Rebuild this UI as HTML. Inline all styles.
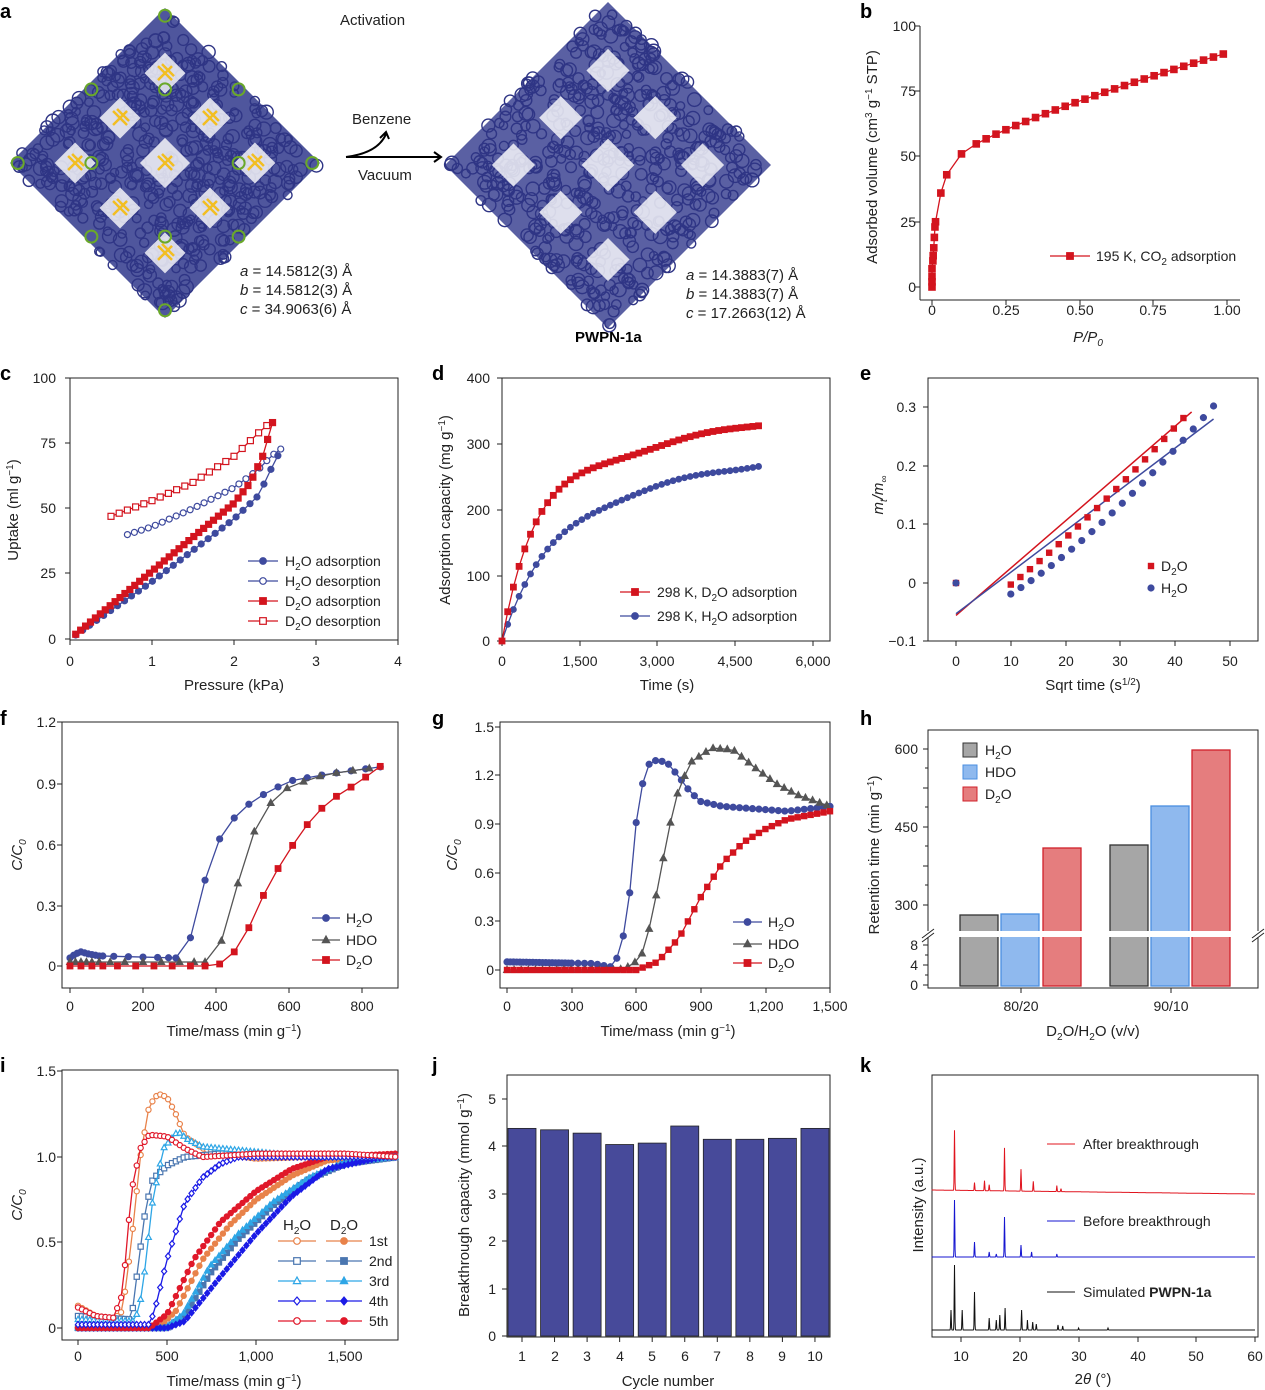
<!DOCTYPE html>
<html><head><meta charset="utf-8"><style>
body{margin:0;background:#fff}
svg{display:block;font-family:"Liberation Sans",Arial,sans-serif}
.t{font-size:14px;fill:#222}
.l{font-size:15px;fill:#222}
.p{font-size:20px;font-weight:bold;fill:#000}
</style></head><body>
<svg id="s" width="1265" height="1390" viewBox="0 0 1265 1390" xmlns="http://www.w3.org/2000/svg">
<g id="art"></g>
<g id="ax" fill="none" stroke="#222" stroke-width="1"></g>
<g id="dat"></g>
<text class="p" x="0" y="18">a</text><text class="p" x="860" y="18">b</text>
<text class="p" x="0" y="380">c</text><text class="p" x="432" y="380">d</text><text class="p" x="860" y="380">e</text>
<text class="p" x="0" y="725">f</text><text class="p" x="432" y="725">g</text><text class="p" x="860" y="725">h</text>
<text class="p" x="0" y="1072">i</text><text class="p" x="432" y="1072">j</text><text class="p" x="860" y="1072">k</text>
<text class="l" x="340" y="25">Activation</text>
<text class="l" x="352" y="124">Benzene</text>
<text class="l" x="358" y="180">Vacuum</text>
<path d="M346,157 L441,157 M434,152 L441,157 L434,162 M346,157 Q378,153 386,134 M380,138 L386,132 L389,139" stroke="#000" stroke-width="2" fill="none"/>
<g class="l"><text x="240" y="276"><tspan font-style="italic">a</tspan> = 14.5812(3) Å</text><text x="240" y="295"><tspan font-style="italic">b</tspan> = 14.5812(3) Å</text><text x="240" y="314"><tspan font-style="italic">c</tspan> = 34.9063(6) Å</text>
<text x="686" y="280"><tspan font-style="italic">a</tspan> = 14.3883(7) Å</text><text x="686" y="299"><tspan font-style="italic">b</tspan> = 14.3883(7) Å</text><text x="686" y="318"><tspan font-style="italic">c</tspan> = 17.2663(12) Å</text></g>
<text x="575" y="342" font-size="15" font-weight="bold">PWPN-1a</text>
<g class="t" text-anchor="end"><text x="916" y="31">100</text><text x="916" y="96">75</text><text x="916" y="161">50</text><text x="916" y="227">25</text><text x="916" y="292">0</text></g>
<g class="t" text-anchor="middle"><text x="932" y="315">0</text><text x="1006" y="315">0.25</text><text x="1080" y="315">0.50</text><text x="1153" y="315">0.75</text><text x="1227" y="315">1.00</text></g>
<text class="l" x="1088" y="342" text-anchor="middle" font-style="italic">P/P<tspan dy="4" font-size="10">0</tspan></text>
<text class="l" transform="translate(877,157) rotate(-90)" text-anchor="middle">Adsorbed volume (cm<tspan dy="-5" font-size="10">3</tspan><tspan dy="5"> g</tspan><tspan dy="-5" font-size="10">−1</tspan><tspan dy="5"> STP)</tspan></text>
<text class="t" x="1096" y="261">195 K, CO<tspan dy="4" font-size="10">2</tspan><tspan dy="-4"> adsorption</tspan></text>
<g class="t" text-anchor="end"><text x="56" y="383">100</text><text x="56" y="448">75</text><text x="56" y="513">50</text><text x="56" y="578">25</text><text x="56" y="644">0</text></g>
<g class="t" text-anchor="middle"><text x="70" y="666">0</text><text x="152" y="666">1</text><text x="234" y="666">2</text><text x="316" y="666">3</text><text x="398" y="666">4</text></g>
<text class="l" x="234" y="690" text-anchor="middle">Pressure (kPa)</text>
<text class="l" transform="translate(18,510) rotate(-90)" text-anchor="middle">Uptake (ml g<tspan dy="-5" font-size="10">−1</tspan><tspan dy="5">)</tspan></text>
<g class="t"><text x="285" y="566">H<tspan dy="4" font-size="10">2</tspan><tspan dy="-4">O adsorption</tspan></text><text x="285" y="586">H<tspan dy="4" font-size="10">2</tspan><tspan dy="-4">O desorption</tspan></text><text x="285" y="606">D<tspan dy="4" font-size="10">2</tspan><tspan dy="-4">O adsorption</tspan></text><text x="285" y="626">D<tspan dy="4" font-size="10">2</tspan><tspan dy="-4">O desorption</tspan></text></g>
<g class="t" text-anchor="end"><text x="490" y="383">400</text><text x="490" y="449">300</text><text x="490" y="515">200</text><text x="490" y="581">100</text><text x="490" y="646">0</text></g>
<g class="t" text-anchor="middle"><text x="502" y="666">0</text><text x="580" y="666">1,500</text><text x="657" y="666">3,000</text><text x="735" y="666">4,500</text><text x="813" y="666">6,000</text></g>
<text class="l" x="667" y="690" text-anchor="middle">Time (s)</text>
<text class="l" transform="translate(450,510) rotate(-90)" text-anchor="middle">Adsorption capacity (mg g<tspan dy="-5" font-size="10">−1</tspan><tspan dy="5">)</tspan></text>
<g class="t"><text x="657" y="597">298 K, D<tspan dy="4" font-size="10">2</tspan><tspan dy="-4">O adsorption</tspan></text><text x="657" y="621">298 K, H<tspan dy="4" font-size="10">2</tspan><tspan dy="-4">O adsorption</tspan></text></g>
<g class="t" text-anchor="end"><text x="916" y="412">0.3</text><text x="916" y="471">0.2</text><text x="916" y="529">0.1</text><text x="916" y="588">0</text><text x="916" y="646">−0.1</text></g>
<g class="t" text-anchor="middle"><text x="956" y="666">0</text><text x="1011" y="666">10</text><text x="1066" y="666">20</text><text x="1120" y="666">30</text><text x="1175" y="666">40</text><text x="1230" y="666">50</text></g>
<text class="l" x="1093" y="690" text-anchor="middle">Sqrt time (s<tspan dy="-5" font-size="10">1/2</tspan><tspan dy="5">)</tspan></text>
<text class="l" transform="translate(883,495) rotate(-90)" text-anchor="middle" font-style="italic">m<tspan dy="4" font-size="10">t</tspan><tspan dy="-4">/m</tspan><tspan dy="4" font-size="10">∞</tspan></text>
<g class="t"><text x="1161" y="571">D<tspan dy="4" font-size="10">2</tspan><tspan dy="-4">O</tspan></text><text x="1161" y="593">H<tspan dy="4" font-size="10">2</tspan><tspan dy="-4">O</tspan></text></g>
<g class="t" text-anchor="end"><text x="56" y="727">1.2</text><text x="56" y="789">0.9</text><text x="56" y="850">0.6</text><text x="56" y="911">0.3</text><text x="56" y="971">0</text></g>
<g class="t" text-anchor="middle"><text x="70" y="1011">0</text><text x="143" y="1011">200</text><text x="216" y="1011">400</text><text x="289" y="1011">600</text><text x="362" y="1011">800</text></g>
<text class="l" x="234" y="1036" text-anchor="middle">Time/mass (min g<tspan dy="-5" font-size="10">−1</tspan><tspan dy="5">)</tspan></text>
<text class="l" transform="translate(22,855) rotate(-90)" text-anchor="middle" font-style="italic">C/C<tspan dy="4" font-size="10">0</tspan></text>
<g class="t"><text x="346" y="923">H<tspan dy="4" font-size="10">2</tspan><tspan dy="-4">O</tspan></text><text x="346" y="945">HDO</text><text x="346" y="965">D<tspan dy="4" font-size="10">2</tspan><tspan dy="-4">O</tspan></text></g>
<g class="t" text-anchor="end"><text x="494" y="732">1.5</text><text x="494" y="780">1.2</text><text x="494" y="829">0.9</text><text x="494" y="878">0.6</text><text x="494" y="926">0.3</text><text x="494" y="975">0</text></g>
<g class="t" text-anchor="middle"><text x="507" y="1011">0</text><text x="572" y="1011">300</text><text x="636" y="1011">600</text><text x="701" y="1011">900</text><text x="766" y="1011">1,200</text><text x="830" y="1011">1,500</text></g>
<text class="l" x="668" y="1036" text-anchor="middle">Time/mass (min g<tspan dy="-5" font-size="10">−1</tspan><tspan dy="5">)</tspan></text>
<text class="l" transform="translate(457,855) rotate(-90)" text-anchor="middle" font-style="italic">C/C<tspan dy="4" font-size="10">0</tspan></text>
<g class="t"><text x="768" y="927">H<tspan dy="4" font-size="10">2</tspan><tspan dy="-4">O</tspan></text><text x="768" y="949">HDO</text><text x="768" y="968">D<tspan dy="4" font-size="10">2</tspan><tspan dy="-4">O</tspan></text></g>
<g class="t" text-anchor="end"><text x="918" y="754">600</text><text x="918" y="832">450</text><text x="918" y="910">300</text><text x="918" y="950">8</text><text x="918" y="970">4</text><text x="918" y="990">0</text></g>
<g class="t" text-anchor="middle"><text x="1021" y="1011">80/20</text><text x="1171" y="1011">90/10</text></g>
<text class="l" x="1093" y="1036" text-anchor="middle">D<tspan dy="4" font-size="10">2</tspan><tspan dy="-4">O/H</tspan><tspan dy="4" font-size="10">2</tspan><tspan dy="-4">O (v/v)</tspan></text>
<text class="l" transform="translate(879,855) rotate(-90)" text-anchor="middle">Retention time (min g<tspan dy="-5" font-size="10">−1</tspan><tspan dy="5">)</tspan></text>
<g class="t"><text x="985" y="755">H<tspan dy="4" font-size="10">2</tspan><tspan dy="-4">O</tspan></text><text x="985" y="777">HDO</text><text x="985" y="799">D<tspan dy="4" font-size="10">2</tspan><tspan dy="-4">O</tspan></text></g>
<g class="t" text-anchor="end"><text x="56" y="1076">1.5</text><text x="56" y="1162">1.0</text><text x="56" y="1247">0.5</text><text x="56" y="1333">0</text></g>
<g class="t" text-anchor="middle"><text x="78" y="1361">0</text><text x="167" y="1361">500</text><text x="256" y="1361">1,000</text><text x="345" y="1361">1,500</text></g>
<text class="l" x="234" y="1386" text-anchor="middle">Time/mass (min g<tspan dy="-5" font-size="10">−1</tspan><tspan dy="5">)</tspan></text>
<text class="l" transform="translate(22,1205) rotate(-90)" text-anchor="middle" font-style="italic">C/C<tspan dy="4" font-size="10">0</tspan></text>
<g class="l"><text x="283" y="1230">H<tspan dy="4" font-size="10">2</tspan><tspan dy="-4">O</tspan></text><text x="330" y="1230">D<tspan dy="4" font-size="10">2</tspan><tspan dy="-4">O</tspan></text></g>
<g class="t"><text x="369" y="1246">1st</text><text x="369" y="1266">2nd</text><text x="369" y="1286">3rd</text><text x="369" y="1306">4th</text><text x="369" y="1326">5th</text></g>
<g class="t" text-anchor="end"><text x="496" y="1104">5</text><text x="496" y="1151">4</text><text x="496" y="1199">3</text><text x="496" y="1246">2</text><text x="496" y="1294">1</text><text x="496" y="1341">0</text></g>
<g class="t" text-anchor="middle"><text x="522" y="1361">1</text><text x="555" y="1361">2</text><text x="587" y="1361">3</text><text x="620" y="1361">4</text><text x="652" y="1361">5</text><text x="685" y="1361">6</text><text x="717" y="1361">7</text><text x="750" y="1361">8</text><text x="782" y="1361">9</text><text x="815" y="1361">10</text></g>
<text class="l" x="668" y="1386" text-anchor="middle">Cycle number</text>
<text class="l" transform="translate(469,1205) rotate(-90)" text-anchor="middle">Breakthrough capacity (mmol g<tspan dy="-5" font-size="10">−1</tspan><tspan dy="5">)</tspan></text>
<g class="t" text-anchor="middle"><text x="961" y="1361">10</text><text x="1020" y="1361">20</text><text x="1079" y="1361">30</text><text x="1138" y="1361">40</text><text x="1196" y="1361">50</text><text x="1255" y="1361">60</text></g>
<text class="l" x="1093" y="1384" text-anchor="middle">2<tspan font-style="italic">θ</tspan> (°)</text>
<text class="l" transform="translate(923,1205) rotate(-90)" text-anchor="middle">Intensity (a.u.)</text>
<g class="t"><text x="1083" y="1149">After breakthrough</text><text x="1083" y="1226">Before breakthrough</text><text x="1083" y="1297">Simulated <tspan font-weight="bold">PWPN-1a</tspan></text></g>
</svg>
<script>
const NS="http://www.w3.org/2000/svg";
const AX=document.getElementById('ax'),DAT=document.getElementById('dat'),ART=document.getElementById('art');
function el(p,tag,a){const e=document.createElementNS(NS,tag);for(const k in a)e.setAttribute(k,a[k]);p.appendChild(e);return e;}
function ip(K,x){if(x<=K[0][0])return K[0][1];for(let i=1;i<K.length;i++){if(x<=K[i][0]){const a=K[i-1],b=K[i];return a[1]+(b[1]-a[1])*(x-a[0])/(b[0]-a[0]);}}return K[K.length-1][1];}
function mk(g,t,x,y,c,f,r){r=r||3.3;const fl=f?c:'#fff';
 if(t=='o')el(g,'circle',{cx:x,cy:y,r:r,fill:fl,stroke:c,'stroke-width':1.2});
 else if(t=='s')el(g,'rect',{x:x-r,y:y-r,width:2*r,height:2*r,fill:fl,stroke:c,'stroke-width':1.2});
 else if(t=='^')el(g,'polygon',{points:`${x},${y-r*1.2} ${x-r*1.1},${y+r*0.8} ${x+r*1.1},${y+r*0.8}`,fill:fl,stroke:c,'stroke-width':1.2});
 else if(t=='d')el(g,'polygon',{points:`${x},${y-r*1.2} ${x+r},${y} ${x},${y+r*1.2} ${x-r},${y}`,fill:fl,stroke:c,'stroke-width':1.2});}
function ser(P,pts,c,t,f,r,noline){const q=pts.map(p=>[P.X(p[0]),P.Y(p[1])]);
 if(!noline)el(DAT,'polyline',{points:q.map(p=>p.join(',')).join(' '),fill:'none',stroke:c,'stroke-width':1.3});
 q.forEach(p=>mk(DAT,t,p[0],p[1],c,f,r));}
function pan(x0,x1,vx0,vx1,y0,y1,vy0,vy1){return{X:v=>x0+(v-vx0)*(x1-x0)/(vx1-vx0),Y:v=>y0+(v-vy0)*(y1-y0)/(vy1-vy0)};}
function box(x,y,w,h){el(AX,'rect',{x:x,y:y,width:w,height:h});}
function tx(xs,y,len){xs.forEach(x=>el(AX,'line',{x1:x,y1:y,x2:x,y2:y+len}));}
function ty(ys,x,len){ys.forEach(y=>el(AX,'line',{x1:x,y1:y,x2:x-len,y2:y}));}
function rng(a,b,s){const r=[];for(let v=a;v<=b+1e-9;v+=s)r.push(v);return r;}
function leg(x1,x2,y,c,t,f){el(DAT,'line',{x1:x1,y1:y,x2:x2,y2:y,stroke:c,'stroke-width':1.3});mk(DAT,t,(x1+x2)/2,y,c,f);}
const RED='#d3141e',BLU='#3e4a9e',GRY='#555';

function diamond(cx,cy,R,yellow){
 el(ART,'polygon',{points:`${cx},${cy-R} ${cx+R},${cy} ${cx},${cy+R} ${cx-R},${cy}`,fill:yellow?'#4f569d':'#5a60a3'});
 let seed=cx;function rnd(){seed=(seed*9301+49297)%233280;return seed/233280;}
 for(let i=0;i<520;i++){const u=rnd()*2-1,v=rnd()*2-1;const x=cx+(u+v)*R/2,y=cy+(u-v)*R/2;
  el(ART,'circle',{cx:x,cy:y,r:4+rnd()*3,fill:'none',stroke:'#2f3585','stroke-width':1.4});}
 const s=R/3.4;const holes=[[0,0],[-1,-1],[1,-1],[-1,1],[1,1],[0,-2],[0,2],[-2,0],[2,0]];
 holes.forEach(h=>{const x=cx+h[0]*R*0.29,y=cy+h[1]*R*0.29;const hs=h[0]==0&&h[1]==0?s*0.55:s*0.45;
  el(ART,'polygon',{points:`${x},${y-hs} ${x+hs},${y} ${x},${y+hs} ${x-hs},${y}`,fill:'#fff',opacity:0.8});
  if(yellow)el(ART,'path',{d:`M${x-7},${y-7}L${x+7},${y+7}M${x-7},${y+7}L${x+7},${y-7}M${x-3},${y-9}L${x+9},${y+3}`,stroke:'#f2be22','stroke-width':2.5});});
 if(yellow){[[0,-1.9],[0,1.9],[-1.9,0],[1.9,0],[-0.95,-0.95],[0.95,-0.95],[-0.95,0.95],[0.95,0.95],[0,-0.95],[0,0.95],[-0.95,0],[0.95,0]].forEach(h=>{
  el(ART,'circle',{cx:cx+h[0]*R*0.5,cy:cy+h[1]*R*0.5,r:6,fill:'none',stroke:'#6aa82a','stroke-width':2});});}
}
diamond(165,163,155,true);diamond(608,165,163,false);

el(AX,'line',{x1:920,y1:26,x2:920,y2:300});el(AX,'line',{x1:920,y1:300,x2:1240,y2:300});
ty([26,91,156,222,287],920,5);tx([932,1006,1080,1153,1227],300,5);
{const P=pan(932,1227,0,1,287,26,0,100);
 const pts=[[0,0],[0,2],[0,4],[0,7],[0.003,10],[0.004,12],[0.006,15],[0.008,19],[0.01,23],[0.012,25],[0.03,36],[0.05,43],[0.1,51]];
 for(let p=0.15;p<=0.99;p+=0.0335){pts.push([p,51+38*Math.pow((p-0.1)/0.88,0.8)]);}
 ser(P,pts,RED,'s',true,3.2);leg(1050,1090,256,RED,'s',true);}

box(70,378,328,262);tx([70,152,234,316,398],640,5);ty([378,443,508,573,639],70,5);
{const P=pan(70,398,0,4,639,378,0,100);
 const ha=[],hd=[],da=[],dd=[];
 for(let x=0.07;x<=2.58;x+=0.085)ha.push([x,ip([[0,0],[1,22],[2,46],[2.3,55],[2.45,65],[2.58,73]],x)]);
 for(let x=0.7;x<=2.58;x+=0.085)hd.push([x,ip([[0.7,40],[1,43],[1.5,50],[2,58],[2.3,65],[2.45,70],[2.58,73]],x)]);
 for(let x=0.07;x<=2.48;x+=0.06)da.push([x,ip([[0,0],[1,26],[2,52],[2.2,60],[2.35,70],[2.48,84]],x)]);
 for(let x=0.5;x<=2.48;x+=0.1)dd.push([x,ip([[0.5,47],[1,53],[1.5,60],[2,70],[2.3,79],[2.48,84]],x)]);
 ser(P,hd,BLU,'o',false,3);ser(P,ha,BLU,'o',true,3);ser(P,dd,RED,'s',false,3);ser(P,da,RED,'s',true,3);
 leg(248,278,561,BLU,'o',true);leg(248,278,581,BLU,'o',false);leg(248,278,601,RED,'s',true);leg(248,278,621,RED,'s',false);}

box(502,378,328,263);tx([502,580,657,735,813],641,5);ty([378,444,510,576,641],502,5);
{const P=pan(502,813,0,6000,641,378,0,400);const D=[],H=[];
 for(let t=0;t<=5000;t+=110){D.push([t,250*(1-Math.exp(-t/600))+80*t/5000+4*Math.sin(t/500)]);H.push([t,200*(1-Math.exp(-t/900))+70*t/5000+3*Math.sin(t/450)]);}
 ser(P,H,BLU,'o',true,2.8);ser(P,D,RED,'s',true,2.8);leg(620,650,592,RED,'s',true);leg(620,650,616,BLU,'o',true);}

box(928,378,330,263);tx([956,1011,1066,1120,1175,1230],641,5);ty([407,466,524,583,641],928,5);
{const P=pan(956,1230,0,50,583,524,0,0.1);
 el(DAT,'line',{x1:P.X(0),y1:P.Y(-0.055),x2:P.X(43),y2:P.Y(0.29),stroke:RED,'stroke-width':1.5});
 el(DAT,'line',{x1:P.X(0),y1:P.Y(-0.052),x2:P.X(47),y2:P.Y(0.278),stroke:BLU,'stroke-width':1.5});
 const R=[[0,0]],B=[[0,0]];
 for(let x=10;x<=43.1;x+=1.75)R.push([x,-0.06+0.355*Math.pow(x/43,1.25)]);
 for(let x=10;x<=47.1;x+=1.85)B.push([x,-0.06+0.36*Math.pow(x/47,1.4)]);
 ser(P,R,RED,'s',true,2.6,true);ser(P,B,BLU,'o',true,3,true);
 mk(DAT,'s',1151,566,RED,true,2.6);mk(DAT,'o',1151,588,BLU,true,3);}

box(62,722,336,266);tx([70,143,216,289,362],988,5);ty([722,784,845,906,966],62,5);
{const P=pan(70,362,0,800,966,845,0,0.6);
 const KH=[[0,0.04],[15,0.06],[30,0.07],[50,0.06],[80,0.05],[290,0.04],[330,0.14],[365,0.40],[410,0.63],[460,0.76],[510,0.83],[560,0.88],[610,0.92],[700,0.95],[860,0.99]];
 const KD=[[0,0.02],[370,0.02],[400,0.07],[430,0.18],[460,0.41],[500,0.65],[545,0.80],[600,0.89],[700,0.95],[860,0.99]];
 const KR=[[0,0],[400,0],[410,0.01],[450,0.07],[490,0.19],[530,0.35],[575,0.50],[625,0.64],[670,0.75],[720,0.83],[790,0.91],[850,0.99]];
 const a=[],b=[],c=[];
 [0,10,20,30,40,50,60,70,80,90,120,160,200,240,270].concat(rng(290,860,40)).forEach(x=>a.push([x,ip(KH,x)]));
 [0,15,30,45,60,80,110,150,200,250,300,340].concat(rng(370,860,45)).forEach(x=>b.push([x,ip(KD,x)]));
 [0,30,60,90,130,180,230,280,330,370].concat(rng(410,850,40)).forEach(x=>c.push([x,ip(KR,x)]));
 ser(P,a,BLU,'o',true,3);ser(P,b,GRY,'^',true,3);ser(P,c,RED,'s',true,2.8);
 leg(312,340,918,BLU,'o',true);leg(312,340,940,GRY,'^',true);leg(312,340,960,RED,'s',true);}

box(500,722,330,266);tx([507,572,636,701,766,830],988,5);ty([727,775,824,873,921,970],500,5);
{const P=pan(507,830,0,1500,970,727,0,1.5);
 const KH=[[0,0.05],[400,0.04],[480,0.02],[520,0.09],[550,0.27],[580,0.58],[600,0.91],[630,1.15],[660,1.27],[700,1.30],[750,1.27],[800,1.19],[850,1.10],[900,1.04],[1000,1.01],[1100,1.0],[1300,0.98],[1500,1.01]];
 const KD=[[0,0],[500,0],[550,0.01],[620,0.07],[670,0.3],[720,0.65],[780,1.05],[850,1.28],[950,1.37],[1050,1.36],[1150,1.25],[1250,1.15],[1350,1.08],[1500,1.01]];
 const KR=[[0,0],[600,0],[700,0.05],[800,0.20],[900,0.45],[1000,0.66],[1100,0.79],[1200,0.87],[1300,0.93],[1500,0.98]];
 const a=[],b=[],c=[];
 rng(0,300,15).concat(rng(330,1500,30)).forEach(x=>a.push([x,ip(KH,x)]));
 rng(0,1500,33).forEach(x=>b.push([x,ip(KD,x)]));
 rng(0,1500,30).forEach(x=>c.push([x,ip(KR,x)]));
 ser(P,a,BLU,'o',true,3);ser(P,b,GRY,'^',true,3);ser(P,c,RED,'s',true,2.6);
 leg(733,762,922,BLU,'o',true);leg(733,762,944,GRY,'^',true);leg(733,762,963,RED,'s',true);}

box(928,730,330,258);ty([749,788,827,866,905,945,965,985],928,5);ty([768,807,846,885,955,975],928,3);tx([1021,1171],988,5);
{const bars=[[960,915,'#a6a6a6'],[1001,914,'#8fb9ee'],[1043,848,'#e57d7e'],[1110,845,'#a6a6a6'],[1151,806,'#8fb9ee'],[1192,750,'#e57d7e']];
 const st={'#a6a6a6':'#333','#8fb9ee':'#4a8ee0','#e57d7e':'#d0202a'};
 bars.forEach(b=>el(DAT,'rect',{x:b[0],y:b[1],width:38,height:986-b[1],fill:b[2],stroke:st[b[2]],'stroke-width':1.3}));
 el(DAT,'rect',{x:920,y:931,width:345,height:6,fill:'#fff'});
 el(DAT,'path',{d:'M922,938 L934,929 M922,942 L934,933 M1252,938 L1264,929 M1252,942 L1264,933',stroke:'#222','stroke-width':1});
 [[963,750,'#a6a6a6'],[963,772,'#8fb9ee'],[963,794,'#e57d7e']].forEach(l=>el(DAT,'rect',{x:l[0],y:l[1]-7,width:14,height:14,fill:l[2],stroke:st[l[2]]}));}

box(62,1070,336,270);tx([78,167,256,345],1340,5);ty([1071,1157,1242,1328],62,5);
{const P=pan(78,345,0,1500,1328,1157,0,1.0);
 const C=['#e8824a','#4a76b0','#2ea6e6','#1b1be6','#e0182a'],M=['o','s','^','d','o'];
 const KH=[
 [[0,0.13],[50,0.1],[100,0.07],[200,0.05],[250,0.1],[300,0.5],[350,1.0],[400,1.3],[450,1.37],[500,1.35],[550,1.25],[600,1.12],[700,1.05],[800,1.02],[1000,0.99],[1300,1.0],[1800,1.0]],
 [[0,0.07],[300,0.05],[330,0.3],[380,0.7],[420,0.87],[500,0.95],[600,1.0],[800,1.02],[1800,1.0]],
 [[0,0.05],[320,0.04],[360,0.2],[420,0.75],[480,1.05],[560,1.15],[620,1.1],[700,1.06],[800,1.05],[1000,1.03],[1300,1.0],[1800,1.0]],
 [[0,0.02],[400,0.02],[430,0.1],[500,0.4],[600,0.73],[700,0.88],[800,0.96],[900,1.0],[1800,1.0]],
 [[0,0.12],[100,0.07],[200,0.06],[250,0.2],[300,0.8],[350,1.05],[400,1.13],[500,1.12],[600,1.05],[700,1.0],[1000,1.02],[1500,1.02],[1800,1.0]]];
 const KD=[
 [[0,0],[450,0],[550,0.1],[700,0.4],[850,0.6],[1000,0.75],[1200,0.89],[1400,0.98],[1800,1.01]],
 [[0,0],[500,0],[600,0.07],[750,0.33],[900,0.52],[1100,0.72],[1300,0.87],[1500,0.96],[1800,1.0]],
 [[0,0],[490,0],[590,0.08],[740,0.36],[900,0.55],[1100,0.74],[1300,0.88],[1500,0.97],[1800,1.0]],
 [[0,0],[500,0],[600,0.04],[800,0.3],[1000,0.55],[1200,0.77],[1400,0.93],[1800,1.02]],
 [[0,0],[400,0],[500,0.08],[650,0.4],[800,0.62],[1000,0.8],[1200,0.93],[1400,1.0],[1800,1.02]]];
 for(let i=0;i<5;i++){const d=[];rng(0,1800,22).forEach(x=>d.push([x,ip(KD[i],x)]));ser(P,d,C[i],M[i],true,2.6);}
 for(let i=0;i<5;i++){const d=[];rng(0,1800,22).forEach(x=>d.push([x,ip(KH[i],x)]));ser(P,d,C[i],M[i],false,2.6);}
 for(let i=0;i<5;i++){const y=1241+20*i;leg(278,316,y,C[i],M[i],false);leg(326,362,y,C[i],M[i],true);}}

box(507,1075,323,262);ty([1099,1146,1194,1241,1289,1336],507,5);
{const v=[4.38,4.35,4.28,4.04,4.07,4.43,4.15,4.15,4.17,4.38];
 v.forEach((h,i)=>{const x=522+32.55*i;el(DAT,'rect',{x:x-14,y:1336-h*47.4,width:28,height:h*47.4,fill:'#474a9a',stroke:'#222','stroke-width':0.8});});
 tx(v.map((h,i)=>522+32.55*i),1337,5);}

box(932,1075,326,262);tx([961,1020,1079,1138,1196,1255],1337,5);
{const X=t=>961+(t-10)*5.88;
 function spec(base,peaks,c,slope){let d='';for(let t=5;t<=60;t+=0.05){let y=base+slope*(t-5)/55;peaks.forEach(p=>{y-=p[1]*Math.exp(-Math.pow((t-p[0])/0.07,2));});d+=(d?'L':'M')+X(t).toFixed(1)+','+y.toFixed(1);}el(DAT,'path',{d:d,fill:'none',stroke:c,'stroke-width':1});}
 spec(1330,[[8.3,20],[8.9,65],[10.2,20],[12.3,38],[14.8,12],[16,10],[16.6,15],[17.5,22],[20.3,20],[21.3,10],[22.2,8],[22.8,6],[26.5,5],[27.3,4],[30,2],[35,2]],'#111',0);
 spec(1257,[[8.9,57],[12.3,15],[14.8,5],[16,3],[17.4,40],[20.2,12],[22,5],[26.3,3]],'#1515d0',0);
 spec(1190,[[8.9,60],[12.3,8],[14,10],[14.8,6],[17.4,43],[20.2,22],[22.3,10],[26.3,6],[27,3]],'#e0141e',4);
 el(DAT,'line',{x1:1047,y1:1144,x2:1075,y2:1144,stroke:'#e0141e'});el(DAT,'line',{x1:1047,y1:1221,x2:1075,y2:1221,stroke:'#1515d0'});el(DAT,'line',{x1:1047,y1:1292,x2:1075,y2:1292,stroke:'#111'});}
</script>
</body></html>
